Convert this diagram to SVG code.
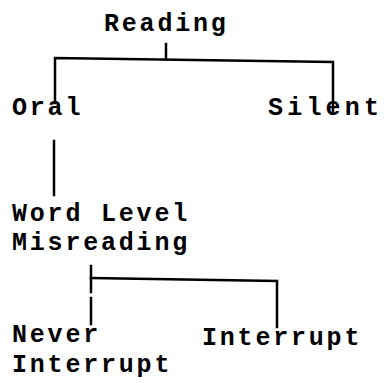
<svg xmlns="http://www.w3.org/2000/svg" width="388" height="383" viewBox="0 0 388 383">
<style>
text{font-family:"Liberation Mono","DejaVu Sans Mono",monospace;font-size:25px;font-weight:bold;letter-spacing:2.8px;fill:#000}
.c{fill:none;stroke:#000;stroke-width:2.5;stroke-linecap:square;stroke-linejoin:miter}
</style>
<rect width="388" height="383" fill="#fff"/>
<g id="connectors">
<path class="c" d="M166,44 V59"/>
<path class="c" d="M55,103 V58 L333,62 V112"/>
<path class="c" d="M54,141 V195"/>
<path class="c" d="M91,266 V292 M91,298 V324"/>
<path class="c" d="M91,278 L277,281 V327"/>
</g>
<g id="node-reading"><text x="104" y="31">Reading</text></g>
<g id="node-oral"><text x="12" y="115">Oral</text></g>
<g id="node-silent"><text x="268" y="115" style="letter-spacing:4.2px">Silent</text></g>
<g id="node-word-level"><text x="12" y="221">Word Level</text><text x="12" y="249.5">Misreading</text></g>
<g id="node-never"><text x="12" y="342">Never</text><text x="12" y="372">Interrupt</text></g>
<g id="node-interrupt"><text x="202" y="345">Interrupt</text></g>
</svg>
